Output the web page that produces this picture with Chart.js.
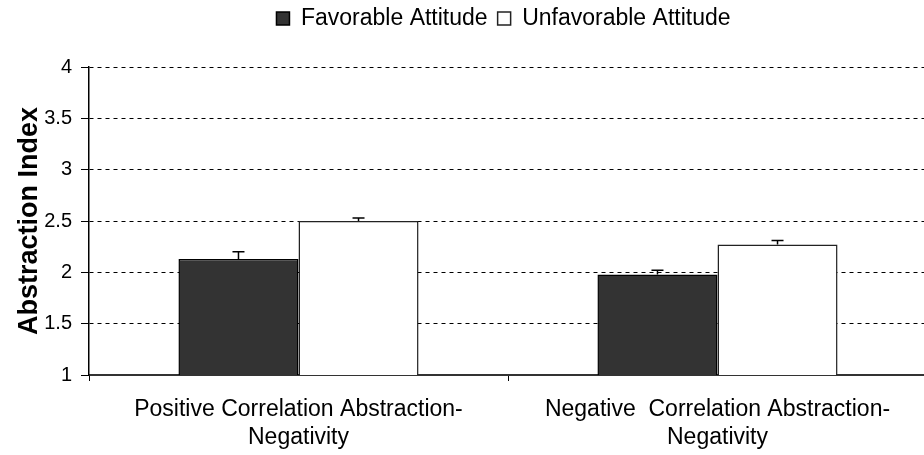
<!DOCTYPE html>
<html>
<head>
<meta charset="utf-8">
<script src="https://cdn.jsdelivr.net/npm/chart.js@4.4.1/dist/chart.umd.min.js"></script>
<style>
  html, body { margin: 0; padding: 0; background: #fff; overflow: hidden; }
  #wrap { width: 928px; height: 455px; }
</style>
</head>
<body>
<div id="wrap"><canvas id="abstractionChart" width="928" height="455"></canvas></div>
<script>
const categorias = [
  ['Positive Correlation Abstraction-', 'Negativity'],
  ['Negative  Correlation Abstraction-', 'Negativity']
];
const favoravel = [2.13, 1.98];
const favoravelErro = [0.07, 0.04];
const desfavoravel = [2.50, 2.27];
const desfavoravelErro = [0.03, 0.04];
const yTicks = [1, 1.5, 2, 2.5, 3, 3.5, 4];

const fonte = "'Liberation Sans', Arial, sans-serif";

// barras de erro (so para cima, com traco no topo)
const barrasErro = {
  id: 'barrasErro',
  afterDatasetsDraw(chart) {
    const ctx = chart.ctx;
    const y = chart.scales.y;
    chart.data.datasets.forEach((ds, i) => {
      const meta = chart.getDatasetMeta(i);
      meta.data.forEach((bar, j) => {
        const topo = y.getPixelForValue(ds.data[j] + ds.erros[j]);
        ctx.save();
        ctx.strokeStyle = '#000';
        ctx.lineWidth = 1.5;
        ctx.beginPath();
        ctx.moveTo(bar.x, bar.y);
        ctx.lineTo(bar.x, topo);
        ctx.moveTo(bar.x - 6, topo);
        ctx.lineTo(bar.x + 6, topo);
        ctx.stroke();
        ctx.restore();
      });
    });
  }
};

// legenda: sobe para o topo e vai um pouco para a direita
const moverLegenda = {
  id: 'moverLegenda',
  afterLayout(chart) {
    const l = chart.legend;
    if (!l) return;
    l.left += 40;
    l.right += 40;
    l.top -= 27;
    l.bottom -= 27;
  }
};

const ctx = document.getElementById('abstractionChart').getContext('2d');
new Chart(ctx, {
  type: 'bar',
  data: {
    labels: categorias,
    datasets: [
      {
        label: 'Favorable Attitude',
        data: favoravel,
        erros: favoravelErro,
        backgroundColor: '#333333',
        borderColor: '#000',
        borderWidth: 1.5,
        borderSkipped: false
      },
      {
        label: 'Unfavorable Attitude',
        data: desfavoravel,
        erros: desfavoravelErro,
        backgroundColor: '#ffffff',
        borderColor: '#222',
        borderWidth: 1.5,
        borderSkipped: false
      }
    ]
  },
  options: {
    responsive: false,
    animation: false,
    layout: { padding: { top: 24, right: 1, left: 0, bottom: 0 } },
    datasets: {
      bar: { categoryPercentage: 0.573, barPercentage: 1 }
    },
    plugins: {
      legend: {
        position: 'top',
        labels: {
          color: '#000',
          font: { family: fonte, size: 23 },
          boxWidth: 13,
          boxHeight: 13,
          padding: 10
        }
      },
      tooltip: { enabled: false }
    },
    scales: {
      x: {
        grid: { drawOnChartArea: false, drawTicks: true, tickLength: 6, color: '#000', offset: true },
        border: { color: '#333', width: 2 },
        ticks: {
          color: '#000',
          font: { family: fonte, size: 23, lineHeight: 1.22 },
          padding: 15,
          maxRotation: 0,
          autoSkip: false
        },
        afterFit(scale) { scale.height = 80; }
      },
      y: {
        min: 1,
        max: 4,
        afterBuildTicks(scale) { scale.ticks = yTicks.map(v => ({ value: v })); },
        grid: { color: '#000', lineWidth: 1, tickLength: 8, tickColor: '#000', tickBorderDash: [] },
        border: { color: '#000', width: 1.5, dash: [4, 4] },
        ticks: {
          color: '#000',
          font: { family: fonte, size: 20 },
          padding: 9,
          callback: v => String(v)
        },
        title: {
          display: true,
          text: 'Abstraction Index',
          color: '#000',
          font: { family: fonte, size: 27, weight: 'bold' },
          padding: { top: 13, bottom: 0 }
        },
        afterFit(scale) { scale.width = 89; }
      }
    }
  },
  plugins: [barrasErro, moverLegenda]
});
</script>
</body>
</html>
